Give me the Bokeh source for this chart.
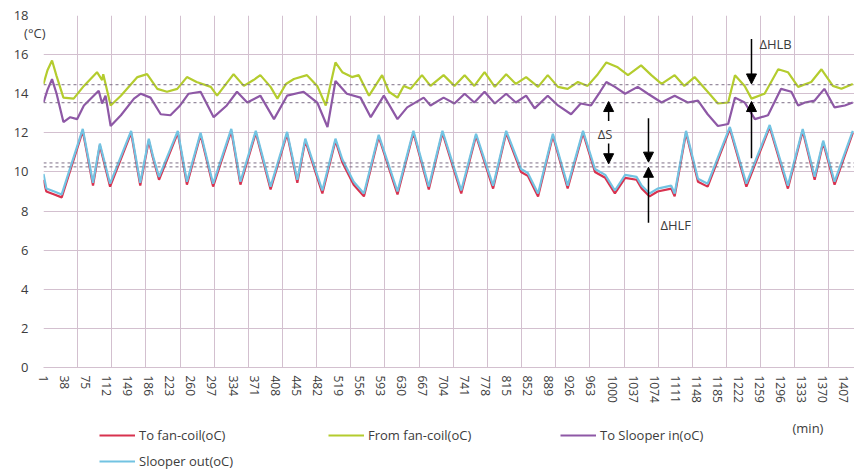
from bokeh.plotting import figure
from bokeh.layouts import column
from bokeh.models import (Range1d, FixedTicker, Label, Arrow, NormalHead, Span,
                          Legend, LegendItem, LinearAxis)
from bokeh.embed import file_html
from bokeh.resources import INLINE

# ---------------- data ----------------
x_tick_labels = [1, 38, 75, 112, 149, 186, 223, 260, 297, 334, 371, 408, 445, 482,
                 519, 556, 593, 630, 667, 704, 741, 778, 815, 852, 889, 926, 963,
                 1000, 1037, 1074, 1111, 1148, 1185, 1222, 1259, 1296, 1333, 1370, 1407]
x_grid = [1, 61, 121, 181, 241, 301, 361, 421, 481, 541, 601, 661, 721, 781, 841,
          901, 961, 1021, 1081, 1141, 1201, 1261, 1321, 1381]
y_ticks = [0, 2, 4, 6, 8, 10, 12, 14, 16, 18]

low_min = [1, 6, 20, 33, 70, 88, 100, 118, 155, 171, 186, 193, 204, 237, 253, 277,
           299, 331, 347, 374, 400, 429, 447, 461, 491, 514, 526, 546, 564, 590,
           623, 651, 678, 702, 735, 761, 791, 814, 840, 852, 870, 896, 922, 949,
           970, 988, 1005, 1023, 1043, 1052, 1066, 1080, 1104, 1110, 1130, 1151,
           1168, 1207, 1236, 1277, 1309, 1335, 1356, 1371, 1391, 1423]
to_fan_coil = [9.6, 9.0, 8.85, 8.7, 12.1, 9.3, 11.35, 9.25, 12.0, 9.3, 11.6, 10.75,
               9.6, 12.0, 9.35, 11.9, 9.25, 12.1, 9.35, 12.0, 9.1, 11.95, 9.45, 11.6,
               8.9, 11.6, 10.5, 9.35, 8.75, 11.8, 8.85, 12.0, 9.1, 12.0, 8.9, 11.85,
               9.15, 12.0, 10.0, 9.8, 8.75, 11.85, 9.15, 12.0, 10.0, 9.7, 8.9, 9.7,
               9.6, 9.15, 8.75, 9.0, 9.15, 8.75, 12.0, 9.5, 9.25, 12.2, 9.25, 12.3,
               9.15, 12.1, 9.6, 11.5, 9.35, 12.0]
slooper_out = [9.9, 9.15, 9.0, 8.85, 12.2, 9.45, 11.45, 9.4, 12.1, 9.45, 11.7, 10.85,
               9.75, 12.1, 9.5, 12.0, 9.4, 12.2, 9.5, 12.1, 9.25, 12.05, 9.6, 11.7,
               9.05, 11.7, 10.65, 9.5, 8.9, 11.9, 9.0, 12.1, 9.25, 12.1, 9.05, 11.95,
               9.3, 12.1, 10.15, 9.95, 8.9, 11.95, 9.3, 12.1, 10.15, 9.85, 9.05, 9.85,
               9.75, 9.3, 8.9, 9.15, 9.3, 8.9, 12.1, 9.65, 9.4, 12.3, 9.4, 12.4,
               9.3, 12.2, 9.75, 11.6, 9.5, 12.1]

from_min = [1, 8, 16, 24, 36, 54, 72, 95, 104, 106, 119, 137, 166, 183, 201, 218,
            236, 253, 270, 295, 306, 335, 353, 370, 382, 400, 412, 427, 441, 464,
            482, 497, 514, 526, 543, 555, 573, 596, 608, 623, 634, 646, 666, 681,
            704, 723, 741, 758, 776, 794, 814, 831, 849, 870, 887, 905, 922, 940,
            957, 975, 990, 1010, 1028, 1051, 1069, 1087, 1110, 1127, 1145, 1168,
            1186, 1204, 1216, 1233, 1245, 1268, 1292, 1309, 1327, 1350, 1368, 1388,
            1403, 1423]
from_fan_coil = [14.5, 15.2, 15.7, 14.9, 13.8, 13.75, 14.4, 15.1, 14.7, 15.0, 13.4,
                 13.9, 14.85, 15.0, 14.25, 14.1, 14.25, 14.85, 14.6, 14.35, 13.9,
                 15.0, 14.4, 14.7, 14.95, 14.35, 13.75, 14.5, 14.75, 14.95, 14.4,
                 13.4, 15.6, 15.1, 14.85, 14.95, 13.9, 14.95, 14.1, 13.8, 14.4, 14.25,
                 14.95, 14.4, 14.95, 14.4, 14.95, 14.4, 15.1, 14.35, 15.0, 14.5,
                 14.85, 14.35, 14.95, 14.35, 14.25, 14.6, 14.4, 15.0, 15.6, 15.35,
                 14.95, 15.45, 14.95, 14.5, 14.95, 14.4, 14.85, 14.1, 13.5, 13.55,
                 14.95, 14.4, 13.75, 14.0, 15.25, 15.1, 14.35, 14.6, 15.25, 14.4,
                 14.25, 14.5]

sl_in_min = [1, 8, 16, 24, 36, 48, 60, 72, 98, 104, 110, 119, 137, 160, 172, 189,
             207, 224, 241, 256, 277, 300, 323, 341, 359, 382, 406, 429, 458, 482,
             500, 514, 534, 558, 576, 599, 623, 640, 669, 681, 704, 723, 741, 758,
             776, 794, 814, 831, 849, 864, 887, 905, 928, 945, 963, 979, 990, 1005,
             1023, 1045, 1063, 1087, 1110, 1133, 1151, 1168, 1186, 1204, 1216, 1233,
             1251, 1274, 1297, 1315, 1327, 1339, 1356, 1373, 1391, 1409, 1423]
to_slooper_in = [13.55, 14.2, 14.75, 14.0, 12.55, 12.8, 12.7, 13.4, 14.15, 13.5, 13.9,
                 12.35, 12.9, 13.75, 14.0, 13.8, 12.95, 12.9, 13.4, 14.0, 14.1, 12.8,
                 13.4, 14.1, 13.55, 13.9, 12.7, 13.9, 14.1, 13.55, 12.3, 14.65, 14.0,
                 13.8, 12.8, 13.9, 12.7, 13.3, 13.8, 13.4, 13.8, 13.5, 14.0, 13.55,
                 14.1, 13.5, 14.0, 13.55, 13.9, 13.25, 13.9, 13.4, 12.95, 13.5, 13.4,
                 14.1, 14.6, 14.35, 14.0, 14.35, 14.0, 13.55, 13.9, 13.55, 13.65,
                 12.95, 12.35, 12.45, 13.8, 13.55, 12.7, 12.9, 14.25, 14.1, 13.4,
                 13.55, 13.65, 14.25, 13.3, 13.4, 13.55]

ref_levels = [14.46, 13.54, 10.46, 10.26]

# annotation arrows: (minute, y_start, y_end)
arrows = [(1245, 16.8, 14.5), (1245, 10.7, 13.6),
          (994, 12.6, 13.6), (994, 11.45, 10.42),
          (1064, 12.75, 10.5), (1064, 7.4, 10.24)]
notes = [("\u0394HLB", 1259, 16.55), ("\u0394S", 975, 11.95), ("\u0394HLF", 1085, 7.3)]

series_names = ["To fan-coil(oC)", "From fan-coil(oC)", "To Slooper in(oC)",
                "Slooper out(oC)"]
series_colors = ["#d8324f", "#b4cc2e", "#8e58a6", "#72c3e2"]
series_x = [low_min, from_min, sl_in_min, low_min]
series_y = [to_fan_coil, from_fan_coil, to_slooper_in, slooper_out]

# ---------------- main figure ----------------
FONT = "Open Sans"
GRID = "#d3c0cf"
TXT = "#3c3c3c"
LW = 2.2

p = figure(width=854, height=410, output_backend="svg", toolbar_location=None,
           x_range=Range1d(1, 1426), y_range=Range1d(0, 18),
           min_border_left=43, min_border_right=0, min_border_top=15,
           min_border_bottom=43)
p.outline_line_color = None
p.background_fill_color = "white"

p.xaxis.ticker = FixedTicker(ticks=x_tick_labels)
p.xaxis.major_label_orientation = "vertical"
p.xaxis.major_tick_line_color = None
p.xaxis.major_tick_out = 0
p.xaxis.minor_tick_line_color = None
p.xaxis.major_label_standoff = 8
p.xaxis.axis_line_color = GRID
p.xaxis.major_label_text_font = FONT
p.xaxis.major_label_text_font_size = "12px"
p.xaxis.major_label_text_color = TXT

p.yaxis.ticker = FixedTicker(ticks=y_ticks)
p.yaxis.major_tick_line_color = None
p.yaxis.major_tick_out = 0
p.yaxis.minor_tick_line_color = None
p.yaxis.major_label_standoff = 15
p.yaxis.axis_line_color = None
p.yaxis.major_label_text_font = FONT
p.yaxis.major_label_text_font_size = "13px"
p.yaxis.major_label_text_color = TXT

# unit label "(°C)" as a second left axis with a single labelled tick
unit_axis = LinearAxis(ticker=FixedTicker(ticks=[17.1]),
                       major_label_overrides={17.1: "(\u00b0C)"},
                       axis_line_color=None, major_tick_line_color=None,
                       minor_tick_line_color=None, major_tick_out=0, major_tick_in=0,
                       major_label_standoff=-35, major_label_text_font=FONT,
                       major_label_text_font_size="13px", major_label_text_color=TXT)
p.add_layout(unit_axis, "left")

p.xgrid.ticker = FixedTicker(ticks=x_grid)
p.xgrid.grid_line_color = GRID
p.ygrid.grid_line_color = GRID

for lv in ref_levels:
    p.add_layout(Span(location=lv, dimension="width", line_color="#7d6f86",
                      line_dash="3 3", line_width=1))

for xs, ys, c in zip(series_x, series_y, series_colors):
    p.line(xs, ys, line_color=c, line_width=LW)

for xm, y0, y1 in arrows:
    p.add_layout(Arrow(end=NormalHead(size=10, fill_color="black", line_color="black"),
                       x_start=xm, y_start=y0, x_end=xm, y_end=y1,
                       line_color="black", line_width=1.5))

for t, xm, yv in notes:
    p.add_layout(Label(x=xm, y=yv, text=t, text_font=FONT, text_font_size="13px",
                       text_color=TXT, text_baseline="middle"))

# ---------------- legend strip (frame aligned with the main frame) ----------------
q = figure(width=854, height=60, output_backend="svg", toolbar_location=None,
           x_range=Range1d(43, 854), y_range=Range1d(0, 60),
           x_axis_location=None, y_axis_location=None,
           min_border_left=43, min_border_right=0, min_border_top=0,
           min_border_bottom=0)
q.grid.visible = False
q.outline_line_color = None
# legend proxies carry the series but sit on a y range that keeps them out of view
q.extra_y_ranges = {"off": Range1d(100, 200)}
leg_r = [q.line(xs, ys, line_color=c, line_width=LW, y_range_name="off")
         for xs, ys, c in zip(series_x, series_y, series_colors)]


def make_legend(idx, loc):
    return Legend(items=[LegendItem(label=series_names[i], renderers=[leg_r[i]])
                         for i in idx],
                  location=loc, glyph_width=36, glyph_height=18,
                  label_height=18, label_standoff=4, spacing=8, padding=0, margin=0,
                  border_line_color=None, background_fill_alpha=0,
                  label_text_font=FONT, label_text_font_size="13px",
                  label_text_color=TXT)


q.add_layout(make_legend([0, 3], (56, 0)))
q.add_layout(make_legend([1], (285, 26)))
q.add_layout(make_legend([2], (517, 26)))
q.add_layout(Label(x=792, y=43, text="(min)", text_font=FONT, text_font_size="13px",
                   text_color=TXT, text_baseline="middle"))

layout = column(p, q, spacing=0)
open("out.html", "w").write(file_html(layout, INLINE))
